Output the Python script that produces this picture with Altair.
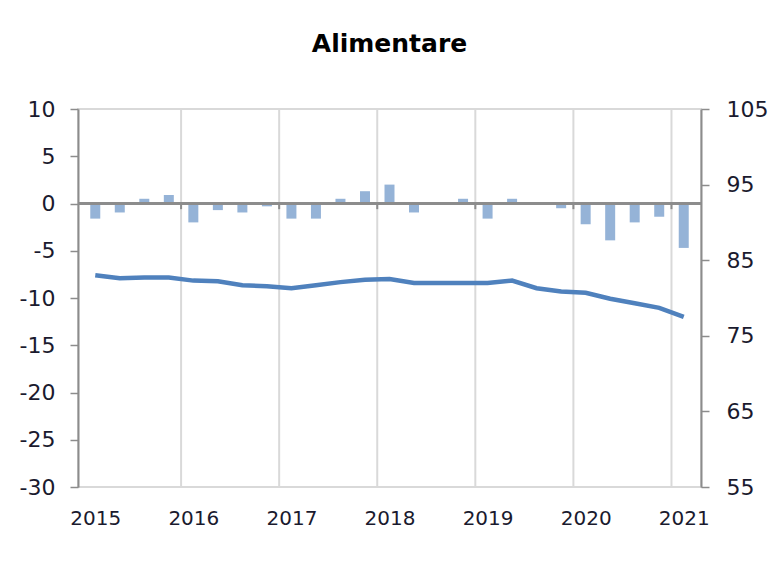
import altair as alt
import pandas as pd

quarters = list(range(25))  # Q1 2015 .. Q1 2021
bar_values = [-1.6, -0.95, 0.5, 0.9,
              -2.0, -0.7, -0.95, -0.3,
              -1.6, -1.6, 0.5, 1.3,
              2.0, -0.95, 0.0, 0.5,
              -1.6, 0.5, 0.0, -0.5,
              -2.2, -3.9, -2.0, -1.4,
              -4.7]
line_values = [83.0, 82.6, 82.7, 82.7,
               82.3, 82.2, 81.7, 81.55,
               81.3, 81.7, 82.1, 82.4,
               82.5, 82.0, 82.0, 82.0,
               82.0, 82.3, 81.3, 80.85,
               80.7, 79.9, 79.3, 78.7,
               77.5]
year_label_positions = [0, 4, 8, 12, 16, 20, 24]
year_boundaries = [3.5, 7.5, 11.5, 15.5, 19.5, 23.5]
first_year = 2015

df = pd.DataFrame({"q": quarters, "bar": bar_values, "line": line_values})
bounds = pd.DataFrame({"b": year_boundaries})

FONT = "DejaVu Sans"
AX = "#8c8c8c"
GRID = "#d9d9d9"
LBL = "#1a1a2e"

xscale = alt.Scale(domain=[-0.5, 24.5], nice=False, zero=False)
x_axis = alt.Axis(values=year_label_positions,
                  labelExpr=f"{first_year} + datum.value / 4",
                  grid=False, ticks=False, domain=False, title=None,
                  labelFont=FONT, labelFontSize=20, labelColor=LBL,
                  labelPadding=21)
left_scale = alt.Scale(domain=[-30, 10], nice=False)

grid = alt.Chart(bounds).mark_rule(color=GRID, strokeWidth=2).encode(
    x=alt.X("b:Q", scale=xscale, axis=x_axis)
)

bars = alt.Chart(df).mark_bar(size=10, color="#95b3d7").encode(
    x=alt.X("q:Q", scale=xscale, axis=x_axis),
    y=alt.Y("bar:Q", scale=left_scale,
            axis=alt.Axis(values=[10, 5, 0, -5, -10, -15, -20, -25, -30],
                          labelExpr="'' + datum.value",
                          title=None, grid=False, domainColor=AX, domainWidth=2,
                          tickColor=AX, tickSize=8, tickWidth=1.5,
                          labelFont=FONT, labelFontSize=22, labelColor=LBL,
                          labelPadding=15)),
)

zero_line = alt.Chart(df).mark_rule(color=AX, strokeWidth=2).encode(
    y=alt.datum(0, scale=left_scale),
)

zero_ticks = alt.Chart(bounds).mark_rule(color=AX, strokeWidth=2).encode(
    x=alt.X("b:Q", scale=xscale, axis=x_axis),
    y=alt.datum(0),
    y2=alt.datum(-0.6),
)

left = alt.layer(grid, bars, zero_line, zero_ticks)

line = alt.Chart(df).mark_line(color="#4f81bd", strokeWidth=4.5).encode(
    x=alt.X("q:Q", scale=xscale, axis=x_axis),
    y=alt.Y("line:Q", scale=alt.Scale(domain=[55, 105], nice=False),
            axis=alt.Axis(values=[105, 95, 85, 75, 65, 55], orient="right",
                          title=None, grid=False, domainColor=AX, domainWidth=2,
                          tickColor=AX, tickSize=8, tickWidth=1.5,
                          labelFont=FONT, labelFontSize=22, labelColor=LBL,
                          labelPadding=17)),
)

chart = alt.layer(left, line).resolve_scale(y="independent").properties(
    width=623, height=378,
    title=alt.TitleParams("Alimentare", font=FONT, fontSize=25, fontWeight="bold",
                          color="#000000", anchor="middle", offset=41),
    autosize=alt.AutoSizeParams(type="none"),
    padding={"left": 70, "top": 101, "right": 68, "bottom": 70},
    background="white",
).configure_view(stroke=GRID, strokeWidth=2)

chart.save("out.html", embed_options={"renderer": "svg", "actions": False})
